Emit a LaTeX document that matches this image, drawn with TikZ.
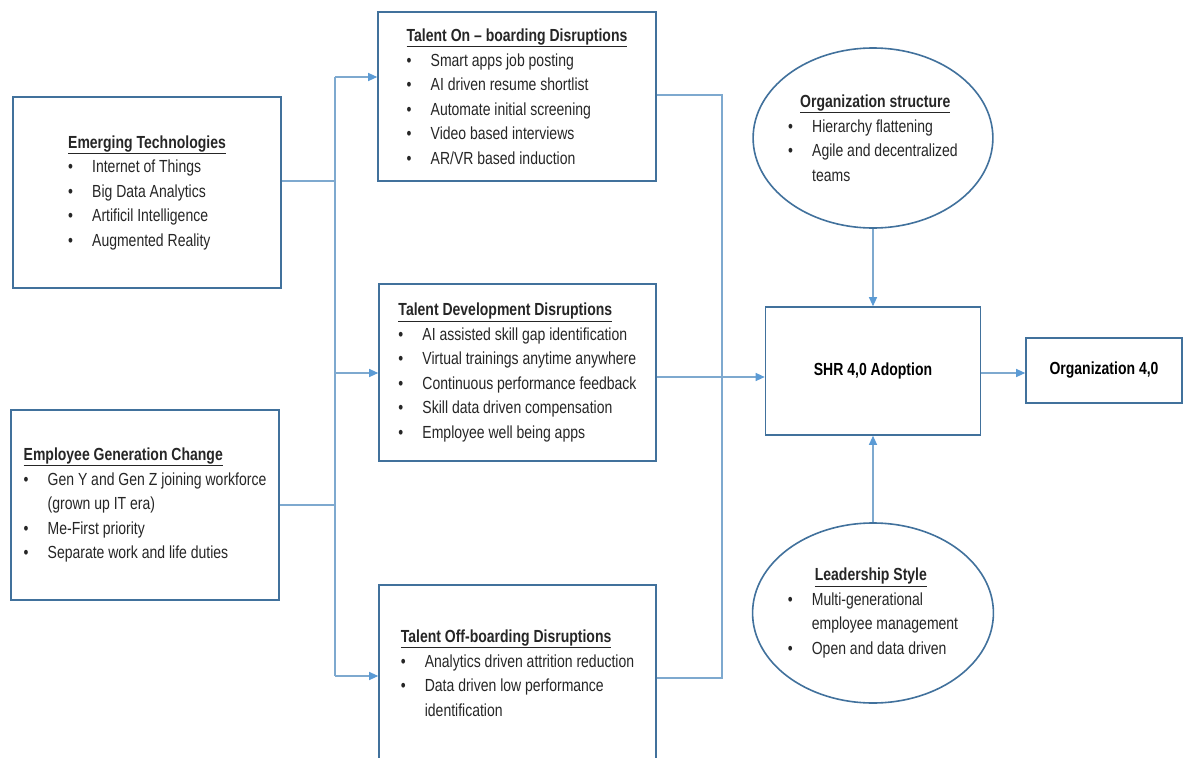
\documentclass[tikz,border=0pt]{standalone}
\usepackage{fontspec}
\setmainfont{Liberation Sans}[FakeStretch=0.8]
\usetikzlibrary{arrows.meta,shapes.geometric,positioning}

\definecolor{boxblue}{HTML}{41719C}
\definecolor{lineblue}{HTML}{7EA9CF}
\definecolor{tipblue}{HTML}{5B9BD5}
\definecolor{txtgray}{HTML}{262626}

\newcommand{\hd}[1]{\textbf{\underline{#1}}}
\newcommand{\itm}[1]{\makebox[24pt][l]{\textbullet}#1}
\newcommand{\cnt}[1]{\hspace*{24pt}#1}

\tikzset{
  box/.style={draw=boxblue, line width=1.6pt, rectangle, align=left, inner sep=0pt,
    text=txtgray, font=\fontsize{17.5}{24.5}\selectfont},
  oval/.style={box, ellipse},
  link/.style={draw=lineblue, line width=1.1pt},
  tip/.style={-{Triangle[length=9pt,width=8pt,color=tipblue]}}
}

\begin{document}
\begin{tikzpicture}[x=1pt, y=-1pt]
\useasboundingbox[fill=white] (0,0) rectangle (1192,758);

% drivers
\node[box, minimum width=268pt, minimum height=191pt] (emerg) at (147,192.5)
  {\hd{Emerging Technologies}\\ \itm{Internet of Things}\\ \itm{Big Data Analytics}\\
   \itm{Artificil Intelligence}\\ \itm{Augmented Reality}};
\node[box, minimum width=268pt, minimum height=190pt] (gen) at (145,505)
  {\hd{Employee Generation Change}\\ \itm{Gen Y and Gen Z joining workforce}\\
   \cnt{(grown up IT era)}\\ \itm{Me-First priority}\\ \itm{Separate work and life duties}};

% disruptions
\node[box, minimum width=278pt, minimum height=169pt] (onb) at (517,96.5)
  {\hd{Talent On – boarding Disruptions}\\ \itm{Smart apps job posting}\\
   \itm{AI driven resume shortlist}\\ \itm{Automate initial screening}\\
   \itm{Video based interviews}\\ \itm{AR/VR based induction}};
\node[box, minimum width=277pt, minimum height=177pt] (dev) at (517.5,372.5)
  {\hd{Talent Development Disruptions}\\ \itm{AI assisted skill gap identification}\\
   \itm{Virtual trainings anytime anywhere}\\ \itm{Continuous performance feedback}\\
   \itm{Skill data driven compensation}\\ \itm{Employee well being apps}};
\node[box, minimum width=277pt, minimum height=176pt] (offb) at (517.5,673)
  {\hd{Talent Off-boarding Disruptions}\\ \itm{Analytics driven attrition reduction}\\
   \itm{Data driven low performance}\\ \cnt{identification}};

% adoption
\node[oval, minimum width=236pt, minimum height=180pt] (orgs) at (873,138)
  {\hspace*{12pt}\hd{Organization structure}\\ \itm{Hierarchy flattening}\\
   \itm{Agile and decentralized}\\ \cnt{teams}};
\node[oval, minimum width=236pt, minimum height=180pt] (lead) at (873,613)
  {\hspace*{27pt}\hd{Leadership Style}\\ \itm{Multi-generational}\\
   \cnt{employee management}\\ \itm{Open and data driven}};
\node[box, minimum width=215pt, minimum height=128pt, text=black] (shr) at (873,371)
  {\textbf{SHR 4,0 Adoption}};
\node[box, minimum width=156pt, minimum height=65pt, text=black] (org) at (1104,370.5)
  {\textbf{Organization 4,0}};

% left bus
\coordinate (lt) at (335,77);
\coordinate (lb) at (335,676);
\draw[link] (lt) -- (lb);
\draw[link] (emerg.east |- 0,181) -- (lt |- 0,181);
\draw[link] (gen.east) -- (lt |- gen.east);
\foreach \dest/\yy in {onb/77, dev/373, offb/676}
  \draw[link,tip] (lt |- 0,\yy) -- (\dest.west |- 0,\yy);

% right bus
\coordinate (rt) at (722,95);
\draw[link] (onb.east |- rt) -- (rt) -- (rt |- 0,678) -- (offb.east |- 0,678);
\draw[link,tip] (dev.east |- 0,377) -- (shr.west |- 0,377);

\draw[link,tip] (orgs) -- (shr);
\draw[link,tip] (lead) -- (shr);
\draw[link,tip] (shr.east |- 0,373) -- (org.west |- 0,373);

\end{tikzpicture}
\end{document}
